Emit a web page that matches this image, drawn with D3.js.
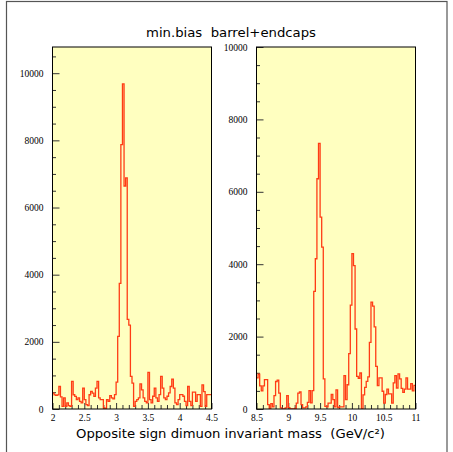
<!DOCTYPE html>
<html><head><meta charset="utf-8">
<script src="https://cdn.jsdelivr.net/npm/d3@7"></script>
<style>html,body{margin:0;padding:0;background:#fff;overflow:hidden;} text{white-space:pre;}</style>
</head><body>
<script>
// ---- data ----
const titleText = "min.bias  barrel+endcaps";
const xTitleText = "Opposite sign dimuon invariant mass  (GeV/c²)";
const binWidth = 0.025;
const leftRange = [2, 4.5];
const rightRange = [8.5, 11];
const leftCounts = [
  475, 420, 410, 420, 670, 360, 80, 330, 80, 180,
  100, 80, 820, 425, 375, 280, 330, 230, 180, 620,
  280, 130, 100, 425, 525, 475, 375, 620, 820, 330,
  280, 280, 30, 0, 280, 230, 400, 330, 300, 430,
  800, 2160, 3740, 7870, 9680, 6640, 6880, 2670, 2500, 970,
  770, 80, 230, 280, 330, 750, 570, 330, 230, 180,
  1090, 280, 180, 380, 620, 330, 230, 430, 970, 620,
  330, 280, 380, 480, 670, 890, 620, 180, 130, 280,
  430, 430, 380, 230, 100, 670, 230, 100, 500, 500,
  230, 430, 430, 80, 720, 520, 80, 430, 430, 430
];
const rightCounts = [
  860, 960, 640, 500, 640, 810, 810, 120, 0, 150,
  60, 370, 760, 800, 440, 30, 0, 0, 30, 370,
  40, 0, 0, 0, 20, 165, 440, 470, 120, 30,
  30, 60, 185, 510, 170, 510, 3250, 4150, 6360, 7340,
  5300, 4470, 830, 75, 60, 165, 165, 400, 260, 60,
  530, 40, 60, 60, 60, 920, 260, 670, 1530, 2870,
  4290, 3960, 2210, 900, 850, 995, 0, 390, 600, 765,
  885, 1840, 2950, 2840, 2270, 1180, 645, 860, 860, 490,
  165, 400, 550, 420, 420, 165, 720, 920, 580, 970,
  830, 570, 460, 550, 860, 550, 550, 700, 500, 650
];
const leftYMax = 10780;
const rightYMax = 10000;
const yMajorTicks = [0, 2000, 4000, 6000, 8000, 10000];
const leftXTicks = [2, 2.5, 3, 3.5, 4, 4.5];
const rightXTicks = [8.5, 9, 9.5, 10, 10.5, 11];

// ---- drawing ----
const W = 453, H = 452;
const svg = d3.select("body").append("svg").attr("width", W).attr("height", H);

// outer frame
svg.append("rect").attr("x", 6.5).attr("y", 1.5).attr("width", 440.5).attr("height", 470)
  .attr("fill", "none").attr("stroke", "#555").attr("stroke-width", 1.2);

svg.append("text").attr("x", 231).attr("y", 36.5).attr("text-anchor", "middle")
  .attr("font-family", "DejaVu Sans").attr("font-size", 12.5)
  .attr("textLength", 170).attr("lengthAdjust", "spacingAndGlyphs")
  .attr("fill", "#000").text(titleText);

svg.append("text").attr("x", 76).attr("y", 438)
  .attr("font-family", "DejaVu Sans").attr("font-size", 13)
  .attr("textLength", 309).attr("lengthAdjust", "spacingAndGlyphs")
  .attr("fill", "#000").text(xTitleText);

const plotTop = 47, plotBottom = 409;

function panel(id, left, right, counts, range, yMax, xTicks) {
  const g = svg.append("g");
  const x = d3.scaleLinear().domain(range).range([left, right]);
  const y = d3.scaleLinear().domain([0, yMax]).range([plotBottom, plotTop]);

  g.append("rect").attr("x", left).attr("y", plotTop).attr("width", right - left).attr("height", plotBottom - plotTop)
    .attr("fill", "#ffffc0");

  g.append("clipPath").attr("id", id).append("rect")
    .attr("x", left).attr("y", plotTop).attr("width", right - left).attr("height", plotBottom - plotTop);

  // minor & major ticks (inward)
  const yMinor = d3.range(0, yMax + 1, 500).filter(v => v % 2000 !== 0);
  const xMinor = d3.range(Math.round(range[0] * 10), Math.round(range[1] * 10) + 1).map(v => v / 10)
    .filter(v => Math.abs(v * 2 - Math.round(v * 2)) > 1e-6);

  const gyMin = g.append("g").attr("transform", `translate(${left},0)`)
    .call(d3.axisLeft(y).tickValues(yMinor).tickSize(-3.5).tickFormat(""));
  const gyMaj = g.append("g").attr("transform", `translate(${left},0)`)
    .call(d3.axisLeft(y).tickValues(yMajorTicks).tickSize(-7).tickPadding(9).tickFormat(d3.format("d")));
  const gxMin = g.append("g").attr("transform", `translate(0,${plotBottom})`)
    .call(d3.axisBottom(x).tickValues(xMinor).tickSize(-4).tickFormat(""));
  const gxMaj = g.append("g").attr("transform", `translate(0,${plotBottom})`)
    .call(d3.axisBottom(x).tickValues(xTicks).tickSize(-6).tickPadding(5).tickFormat(d3.format("")));

  [gyMin, gyMaj, gxMin, gxMaj].forEach(a => {
    a.attr("font-family", "Liberation Serif").attr("font-size", 9.5);
    a.select(".domain").remove();
    a.selectAll("line").attr("stroke", "#333").attr("stroke-width", 1);
    a.selectAll("text").attr("font-family", "Liberation Serif").attr("font-size", 9.5).attr("fill", "#000");
  });

  // histogram
  const pts = counts.map((c, i) => [range[0] + i * binWidth, c]);
  pts.push([range[0] + counts.length * binWidth, counts[counts.length - 1]]);
  const line = d3.line().x(d => x(d[0])).y(d => y(d[1])).curve(d3.curveStepAfter);
  g.append("path").attr("d", line(pts)).attr("fill", "none")
    .attr("stroke", "#ff3c14").attr("stroke-width", 1.3)
    .attr("clip-path", `url(#${id})`);

  g.append("rect").attr("x", left).attr("y", plotTop).attr("width", right - left).attr("height", plotBottom - plotTop)
    .attr("fill", "none").attr("stroke", "#000").attr("stroke-width", 1);
}

panel("clipL", 52.5, 211.5, leftCounts, leftRange, leftYMax, leftXTicks);
panel("clipR", 256.5, 415.5, rightCounts, rightRange, rightYMax, rightXTicks);
</script>
</body></html>
